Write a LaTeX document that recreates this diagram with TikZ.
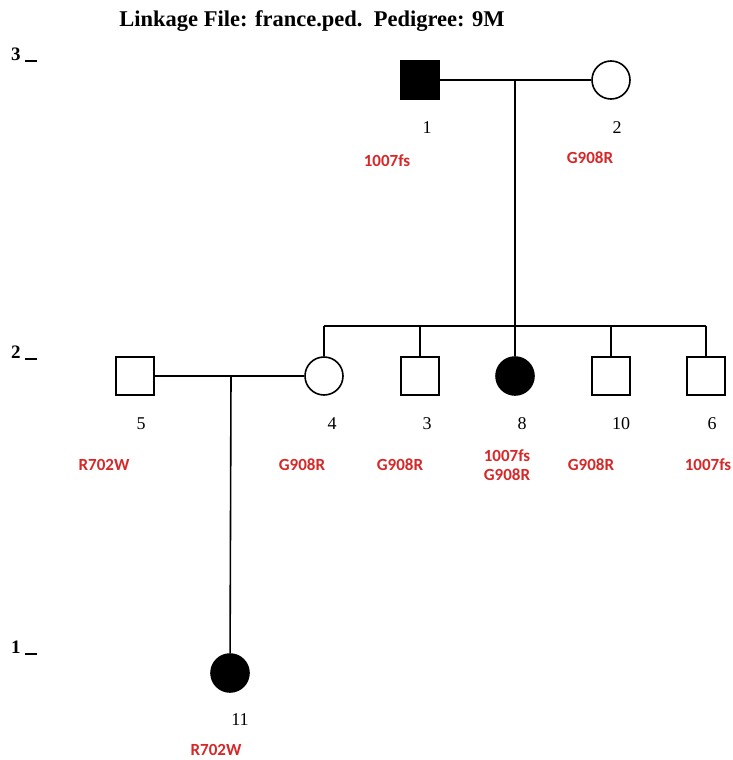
\documentclass[tikz,border=0pt]{standalone}
\usepackage{fontspec}
\setmainfont{Liberation Serif}
\newfontfamily\mutfont{Carlito}
\definecolor{mutred}{RGB}{214,40,40}
\begin{document}
\begin{tikzpicture}[x=1pt,y=-1pt,
  line/.style={line width=1.6pt,black},
  male/.style={draw,line width=1.6pt,minimum size=38pt,inner sep=0pt,fill=white},
  female/.style={draw,circle,line width=1.6pt,minimum size=38pt,inner sep=0pt,fill=white},
  aff/.style={fill=black},
  idl/.style={font=\fontsize{18}{18}\selectfont,inner sep=0pt},
  mut/.style={font=\mutfont\bfseries\fontsize{17}{19}\selectfont,text=mutred,inner sep=0pt,align=center},
  gen/.style={font=\bfseries\fontsize{19}{19}\selectfont,inner sep=0pt,anchor=west}]
\useasboundingbox (0,0) rectangle (732,760);
\node[font=\bfseries\fontsize{22.5}{22.5}\selectfont,inner sep=0pt] (title) at (312,21) {Linkage File: france.ped.\ \ Pedigree: 9M};
\node[gen] (g3) at (11,55) {3 \rule[-1pt]{12pt}{1.6pt}};
\node[gen] (g2) at (11,353) {2 \rule[-1pt]{12pt}{1.6pt}};
\node[gen] (g1) at (11,648) {1 \rule[-1pt]{12pt}{1.6pt}};
% generation 3
\node[male,aff] (n1) at (420,80) {};
\node[female] (n2) at (611,80) {};
% generation 2
\node[male] (n5) at (135,376) {};
\node[female] (n4) at (324,376) {};
\node[male] (n3) at (420,376) {};
\node[female,aff] (n8) at (515,376) {};
\node[male] (n10) at (611,376) {};
\node[male] (n6) at (706,376) {};
% generation 1
\node[female,aff] (n11) at (230,673) {};
% connectors
\coordinate (m1) at (515,80);
\coordinate (s1) at (515,326);
\coordinate (sl) at (324,326);
\coordinate (sr) at (706,326);
\coordinate (s3) at (420,326);
\coordinate (s10) at (611,326);
\coordinate (m2) at (231,376);
\draw[line] (n1) -- (n2);
\draw[line] (m1) -- (s1);
\draw[line] (sl) -- (sr);
\draw[line] (sl) -- (n4);
\draw[line] (s3) -- (n3);
\draw[line] (s1) -- (n8);
\draw[line] (s10) -- (n10);
\draw[line] (sr) -- (n6);
\draw[line] (n5) -- (n4);
\draw[line] (m2) -- (n11);
% ids
\node[idl] (l1) at (427,128) {1};
\node[idl] (l2) at (617,128) {2};
\node[idl] (l5) at (141,424) {5};
\node[idl] (l4) at (332,424) {4};
\node[idl] (l3) at (427,424) {3};
\node[idl] (l8) at (522,424) {8};
\node[idl] (l10) at (621,424) {10};
\node[idl] (l6) at (712,424) {6};
\node[idl] (l11) at (240,720) {11};
% mutations
\node[mut] (u1) at (387,161) {1007fs};
\node[mut] (u2) at (590,158) {G908R};
\node[mut] (u5) at (104,465) {R702W};
\node[mut] (u4) at (302,465) {G908R};
\node[mut] (u3) at (400,465) {G908R};
\node[mut] (u8) at (507,465) {1007fs\\G908R};
\node[mut] (u10) at (591,465) {G908R};
\node[mut] (u6) at (708,465) {1007fs};
\node[mut] (u11) at (216,750) {R702W};
\end{tikzpicture}
\end{document}
